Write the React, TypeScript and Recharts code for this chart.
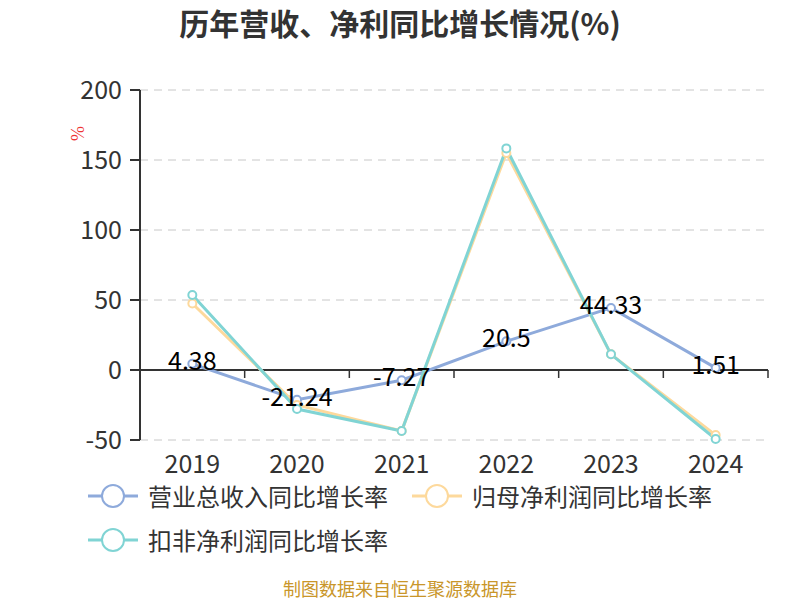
import React from 'react';
import {
  LineChart,
  Line,
  XAxis,
  YAxis,
  CartesianGrid,
  ReferenceLine,
  LabelList
} from 'recharts';

const years = ['2019', '2020', '2021', '2022', '2023', '2024'];
const revenueGrowth = [4.38, -21.24, -7.27, 20.5, 44.33, 1.51];
const netProfitGrowth = [47.5, -25, -43.5, 155, 11.2, -46.5];
const deductedProfitGrowth = [53.6, -27.9, -43.6, 158.3, 11.2, -49.3];
const yTicks = [-50, 0, 50, 100, 150, 200];

const seriesNames = ['营业总收入同比增长率', '归母净利润同比增长率', '扣非净利润同比增长率'];
const colors = ['#8eaadb', '#fdd99c', '#80d4d4'];

const data = years.map((year, i) => ({
  year,
  revenue: revenueGrowth[i],
  netProfit: netProfitGrowth[i],
  deducted: deductedProfitGrowth[i]
}));

const W = 800;
const H = 600;
const M = { top: 90, right: 32, bottom: 120, left: 0 };
const Y_AXIS_W = 140;
const X_AXIS_H = 40;
const font = '"Noto Sans CJK SC", "Noto Sans", sans-serif';

const plotW = W - Y_AXIS_W - M.right;
const plotH = H - M.top - M.bottom - X_AXIS_H;
const bandW = plotW / years.length;
const zeroY = M.top + (200 / 250) * plotH;

// year label at the bottom, small tick marks sit on the zero line
const YearTick = (props: any) => {
  const { x, y, payload, index } = props;
  return (
    <g>
      <line x1={x - bandW / 2} x2={x - bandW / 2} y1={zeroY} y2={zeroY + 8} stroke="#333" strokeWidth={1.5} />
      {index === years.length - 1 && (
        <line x1={x + bandW / 2} x2={x + bandW / 2} y1={zeroY} y2={zeroY + 8} stroke="#333" strokeWidth={1.5} />
      )}
      <text x={x} y={y + 25} textAnchor="middle" fontSize={25} fill="#333" fontFamily={font}>
        {payload.value}
      </text>
    </g>
  );
};

const LegendIcon = ({ color }: { color: string }) => (
  <svg width={50} height={26} style={{ display: 'block' }}>
    <line x1={0} x2={50} y1={13} y2={13} stroke={color} strokeWidth={3} />
    <circle cx={25} cy={13} r={11} fill="#fff" stroke={color} strokeWidth={2} />
  </svg>
);

const LegendItem = ({ i, left, top }: { i: number; left: number; top: number }) => (
  <div style={{ position: 'absolute', left, top, display: 'flex', alignItems: 'center', gap: 10 }}>
    <LegendIcon color={colors[i]} />
    <span style={{ fontSize: 24, color: '#333', fontFamily: font, whiteSpace: 'nowrap' }}>{seriesNames[i]}</span>
  </div>
);

export default function App() {
  return (
    <div style={{ position: 'absolute', left: 0, top: 0, width: W, height: H, background: '#fff' }}>
      <div
        style={{
          position: 'absolute',
          top: 0,
          width: W,
          textAlign: 'center',
          fontSize: 30,
          fontWeight: 'bold',
          color: '#333',
          fontFamily: font
        }}
      >
        历年营收、净利同比增长情况(%)
      </div>
      <LineChart width={W} height={H} data={data} margin={M}>
        <CartesianGrid horizontal vertical={false} stroke="#c8c8c8" strokeDasharray="8 6" />
        <XAxis
          dataKey="year"
          scale="band"
          height={X_AXIS_H}
          axisLine={false}
          tickLine={false}
          tick={<YearTick />}
          interval={0}
        />
        <YAxis
          width={Y_AXIS_W}
          domain={[-50, 200]}
          ticks={yTicks}
          interval={0}
          axisLine={{ stroke: '#333', strokeWidth: 2 }}
          tickLine={{ stroke: '#333', strokeWidth: 2 }}
          tickSize={10}
          tickMargin={8}
          tick={{ fontSize: 25, fill: '#333', fontFamily: font }}
          label={{ value: '%', angle: -90, position: 'insideTopLeft', dx: 66, dy: 46, fill: '#e33', fontSize: 18 }}
        />
        <ReferenceLine y={0} stroke="#333" strokeWidth={2} />
        <Line
          dataKey="revenue"
          name={seriesNames[0]}
          stroke={colors[0]}
          strokeWidth={3}
          dot={{ r: 4, fill: '#fff', stroke: colors[0], strokeWidth: 2 }}
          isAnimationActive={false}
        />
        <Line
          dataKey="netProfit"
          name={seriesNames[1]}
          stroke={colors[1]}
          strokeWidth={3}
          dot={{ r: 4, fill: '#fff', stroke: colors[1], strokeWidth: 2 }}
          isAnimationActive={false}
        />
        <Line
          dataKey="deducted"
          name={seriesNames[2]}
          stroke={colors[2]}
          strokeWidth={3}
          dot={{ r: 4, fill: '#fff', stroke: colors[2], strokeWidth: 2 }}
          isAnimationActive={false}
        />
        <Line
          dataKey="revenue"
          stroke="none"
          dot={false}
          legendType="none"
          isAnimationActive={false}
        >
          <LabelList dataKey="revenue" position="center" dy={-3} fontSize={25} fill="#000" fontFamily={font} />
        </Line>
      </LineChart>
      <LegendItem i={0} left={88} top={478} />
      <LegendItem i={1} left={412} top={478} />
      <LegendItem i={2} left={88} top={522} />
      <div
        style={{
          position: 'absolute',
          top: 578,
          width: W,
          textAlign: 'center',
          fontSize: 18,
          lineHeight: '20px',
          color: '#c9962a',
          fontFamily: font
        }}
      >
        制图数据来自恒生聚源数据库
      </div>
    </div>
  );
}
